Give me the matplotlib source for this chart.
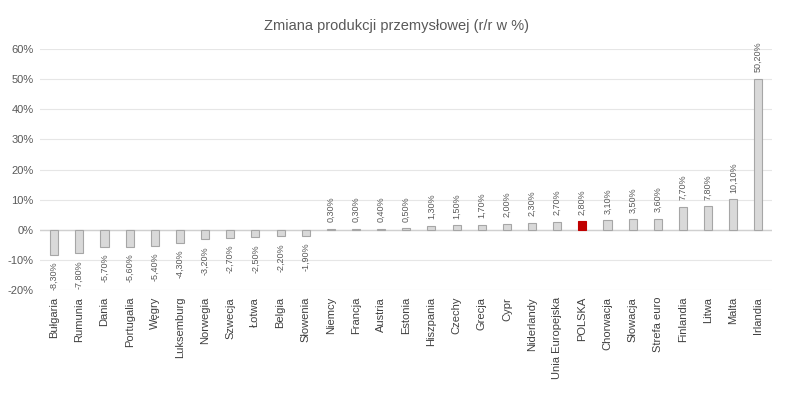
import matplotlib
matplotlib.use("Agg")
import matplotlib.pyplot as plt
import numpy as np

plt.rcParams["font.family"] = ["Liberation Sans", "DejaVu Sans"]

countries = ["Bułgaria", "Rumunia", "Dania", "Portugalia", "Węgry", "Luksemburg",
             "Norwegia", "Szwecja", "Łotwa", "Belgia", "Słowenia", "Niemcy",
             "Francja", "Austria", "Estonia", "Hiszpania", "Czechy", "Grecja",
             "Cypr", "Niderlandy", "Unia Europejska", "POLSKA", "Chorwacja",
             "Słowacja", "Strefa euro", "Finlandia", "Litwa", "Malta", "Irlandia"]
values = [-8.3, -7.8, -5.7, -5.6, -5.4, -4.3, -3.2, -2.7, -2.5, -2.2, -1.9, 0.3,
          0.3, 0.4, 0.5, 1.3, 1.5, 1.7, 2.0, 2.3, 2.7, 2.8, 3.1, 3.5, 3.6, 7.7,
          7.8, 10.1, 50.2]
highlight = "POLSKA"
yticks = [-20, -10, 0, 10, 20, 30, 40, 50, 60]

grey_txt = "#595959"
fig = plt.figure(figsize=(7.92, 3.93), dpi=100)
ax = fig.add_axes([0.051, 0.262, 0.924, 0.613])

x = np.arange(len(countries))
colors = ["#c00000" if c == highlight else "#d9d9d9" for c in countries]
edges = ["#c00000" if c == highlight else "#a6a6a6" for c in countries]
ax.bar(x, values, width=0.32, color=colors, edgecolor=edges, linewidth=0.8, zorder=3)

for xi, v in zip(x, values):
    lab = f"{v:.2f}".replace(".", ",") + "%"
    if v >= 0:
        ax.text(xi, v + 2.2, lab, rotation=90, ha="center", va="bottom",
                fontsize=6.5, color=grey_txt)
    else:
        ax.text(xi, v - 2.2, lab, rotation=90, ha="center", va="top",
                fontsize=6.5, color=grey_txt)

ax.set_ylim(-20, 60)
ax.set_xlim(-0.55, len(countries) - 0.45)
ax.set_yticks(yticks)
ax.set_yticklabels([f"{t}%" for t in yticks], fontsize=8, color=grey_txt)
ax.set_xticks(x)
ax.set_xticklabels(countries, rotation=90, fontsize=8, color="#404040")
ax.tick_params(length=0, pad=5)
ax.grid(axis="y", color="#e6e6e6", linewidth=0.8, zorder=0)
ax.axhline(0, color="#d0d0d0", linewidth=1.0, zorder=2)
for s in ax.spines.values():
    s.set_visible(False)

fig.text(0.5, 0.915, "Zmiana produkcji przemysłowej (r/r w %)", ha="center",
         va="bottom", fontsize=10.5, color=grey_txt)

fig.savefig("out.png", dpi=100)
